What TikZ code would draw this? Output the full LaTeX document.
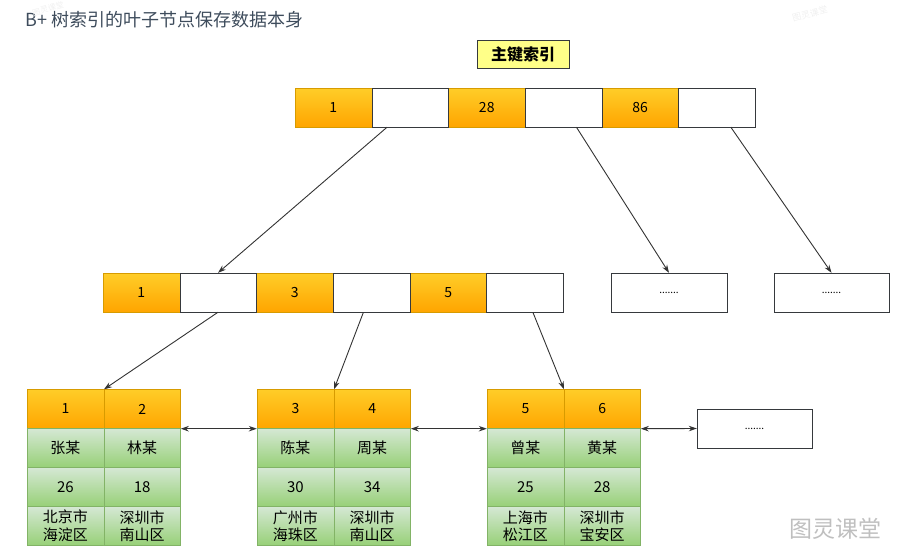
\documentclass[tikz,border=0pt]{standalone}
\usepackage{fontspec}
\setmainfont{Noto Sans CJK SC}
\usetikzlibrary{arrows.meta}
\definecolor{keytop}{HTML}{FFCD28}
\definecolor{keybot}{HTML}{FFA500}
\definecolor{keyedge}{HTML}{D79B00}
\definecolor{rowtop}{HTML}{D5E8D4}
\definecolor{rowbot}{HTML}{97D077}
\definecolor{rowedge}{HTML}{82B366}
\definecolor{edge}{HTML}{36393D}
\definecolor{linkc}{HTML}{333333}
\definecolor{labelc}{HTML}{FFFF88}
\definecolor{titlec}{HTML}{3E4C5C}

\begin{document}
\begin{tikzpicture}[x=1pt, y=-1pt, >={Stealth[length=8pt, width=5.5pt]},
    cellbox/.style={draw=edge, minimum width=76.7pt, minimum height=39pt, inner sep=0pt, font=\fontsize{14}{16}\selectfont},
    keycell/.style={cellbox, draw=keyedge, top color=keytop, bottom color=keybot},
    ptrcell/.style={cellbox, fill=white},
    rowcell/.style={cellbox, draw=rowedge, top color=rowtop, bottom color=rowbot, minimum width=76.8pt, align=center, font=\fontsize{15}{17.5}\selectfont},
    link/.style={draw=linkc, line width=0.9pt, ->}]
    \useasboundingbox (0,0) rectangle (903,555);

    % title and watermarks
    \node[anchor=west, inner sep=0pt, text=titlec, font=\fontsize{18}{20}\selectfont] (title) at (25,20) {B+ 树索引的叶子节点保存数据本身};
    \node[text=gray!12, rotate=15, inner sep=0pt, font=\fontsize{8}{9}\selectfont] (wma) at (48,9) {图灵课堂};
    \node[text=gray!12, rotate=15, inner sep=0pt, font=\fontsize{9}{10}\selectfont] (wmb) at (810,14) {图灵课堂};
    \node[text=gray!50, font=\fontsize{23}{25}\selectfont] (wm) at (835,529) {图灵课堂};

    \node[draw=edge, fill=labelc, minimum width=92pt, minimum height=28pt, inner sep=0pt, font=\bfseries\fontsize{16}{18}\selectfont] (pk) at (523,54) {主键索引};

    % root
    \foreach \i/\k in {1/1, 3/28, 5/86}{
        \node[keycell] (t\i) at (295+76.7*\i-38.35, 107.5) {\k};
    }
    \foreach \i in {2,4,6}{
        \node[ptrcell] (t\i) at (295+76.7*\i-38.35, 107.5) {};
    }

    % inner level
    \foreach \i/\k in {1/1, 3/3, 5/5}{
        \node[keycell] (m\i) at (103+76.7*\i-38.35, 292.5) {\k};
    }
    \foreach \i in {2,4,6}{
        \node[ptrcell] (m\i) at (103+76.7*\i-38.35, 292.5) {};
    }
    \node[ptrcell, minimum width=116pt, font=\fontsize{10}{12}\selectfont] (e1) at (669,292.5) {.......};
    \node[ptrcell, minimum width=115pt, font=\fontsize{10}{12}\selectfont] (e2) at (831.5,292.5) {.......};

    % leaves
    \foreach \n/\x/\ka/\kb/\na/\nb/\aa/\ab/\ca/\cb in {
        1/27/1/2/张某/林某/26/18/{北京市\\海淀区}/{深圳市\\南山区},
        2/257/3/4/陈某/周某/30/34/{广州市\\海珠区}/{深圳市\\南山区},
        3/487/5/6/曾某/黄某/25/28/{上海市\\松江区}/{深圳市\\宝安区}}{
        \node[keycell, minimum width=76.8pt] (k\n-a) at (\x+38.4, 409) {\ka};
        \node[keycell, minimum width=76.8pt] (k\n-b) at (\x+115.2, 409) {\kb};
        \node[rowcell] (n\n-a) at (\x+38.4, 448) {\na};
        \node[rowcell] (n\n-b) at (\x+115.2, 448) {\nb};
        \node[rowcell] (g\n-a) at (\x+38.4, 487) {\aa};
        \node[rowcell] (g\n-b) at (\x+115.2, 487) {\ab};
        \node[rowcell] (c\n-a) at (\x+38.4, 526) {\ca};
        \node[rowcell] (c\n-b) at (\x+115.2, 526) {\cb};
    }
    \node[ptrcell, minimum width=115pt, font=\fontsize{10}{12}\selectfont] (e3) at (754.5,428.5) {.......};

    % pointers
    \draw[link] ([xshift=-23pt]t2.south) -- (m2.north);
    \draw[link] ([xshift=13pt]t4.south) -- (e1.north);
    \draw[link] ([xshift=14pt]t6.south) -- (e2.north);
    \draw[link] (m2.south) -- (k1-a.north east);
    \draw[link] ([xshift=-8pt]m4.south) -- (k2-a.north east);
    \draw[link] ([xshift=8pt]m6.south) -- (k3-a.north east);

    \draw[link, <->] (k1-b.south east) -- (k2-a.south west);
    \draw[link, <->] (k2-b.south east) -- (k3-a.south west);
    \draw[link, <->] (k3-b.south east) -- (e3.west);
\end{tikzpicture}
\end{document}
